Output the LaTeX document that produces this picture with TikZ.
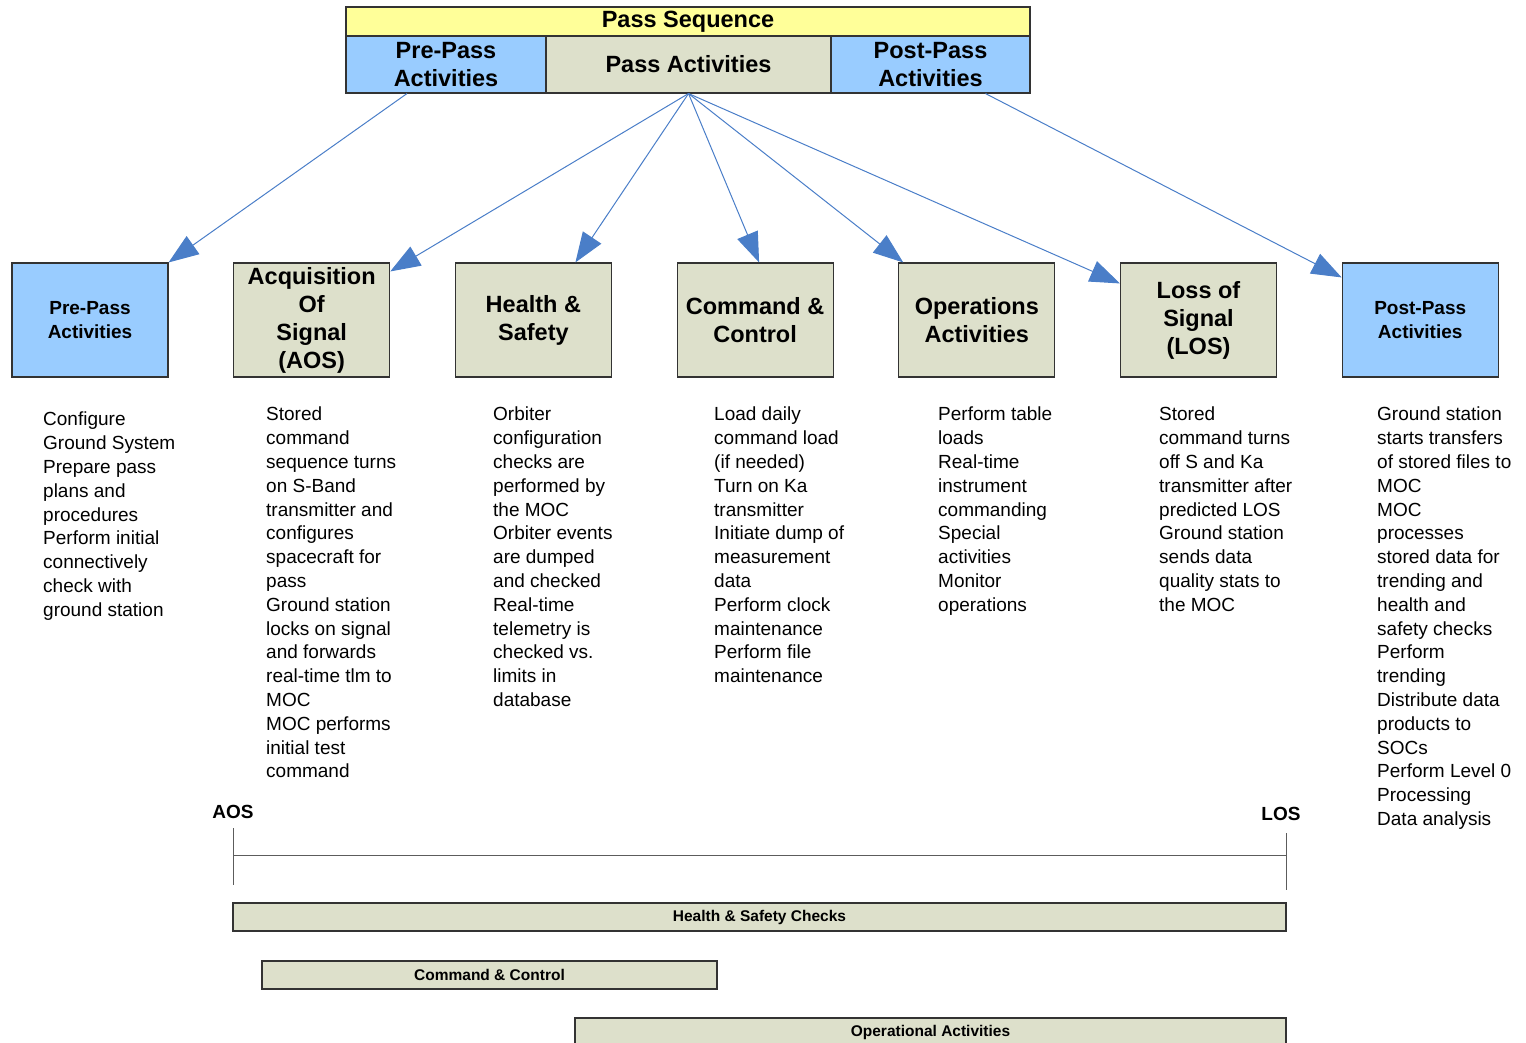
\documentclass[tikz,border=0pt]{standalone}
\usepackage{fontspec}
\setmainfont{Liberation Sans}
\usetikzlibrary{arrows.meta,positioning}
\definecolor{passblue}{HTML}{99CCFF}
\definecolor{passyellow}{HTML}{FFFF99}
\definecolor{sage}{HTML}{DDE0CB}
\definecolor{link}{HTML}{4A7EC8}
\definecolor{edge}{HTML}{333333}

\begin{document}
\begin{tikzpicture}[x=1pt,y=-1pt,
  head/.style={draw=edge,line width=1.1pt,inner sep=0pt,align=center,font={\fontsize{23.5}{28}\selectfont\bfseries}},
  phase/.style={draw=edge,line width=1.1pt,fill=sage,minimum width=156pt,minimum height=114pt,inner sep=0pt,align=center,font={\fontsize{23.5}{28}\selectfont\bfseries}},
  notes/.style={anchor=north west,inner sep=0pt,align=left,font={\fontsize{19}{23.8}\selectfont}},
  bar/.style={draw=edge,line width=1.1pt,fill=sage,minimum height=28pt,inner sep=0pt,font={\fontsize{15.5}{18}\selectfont\bfseries}},
  timemark/.style={inner sep=0pt,font={\fontsize{19}{22}\selectfont\bfseries}},
  feed/.style={link,line width=1pt,-{Triangle[length=30pt,width=22pt]}}]
 \useasboundingbox (0,0) rectangle (1526,1043);
 \node[head,fill=passyellow,minimum width=684pt,minimum height=29pt] (seq) at (688,21.5) {Pass Sequence};
 \node[head,fill=passblue,minimum width=200pt,minimum height=57pt] (pre) at (446,64.5) {Pre-Pass\\Activities};
 \node[head,fill=sage,minimum width=285pt,minimum height=57pt] (pass) at (688.5,64.5) {Pass Activities};
 \node[head,fill=passblue,minimum width=199pt,minimum height=57pt] (post) at (930.5,64.5) {Post-Pass\\Activities};

 \node[phase,fill=passblue,font={\fontsize{19}{24}\selectfont\bfseries}] (prebox) at (90,320) {Pre-Pass\\Activities};
 \node[phase,right=64.6pt of prebox] (aos) {Acquisition\\Of\\Signal\\(AOS)};
 \node[phase,right=64.6pt of aos] (hs) {Health \&\\Safety};
 \node[phase,right=64.6pt of hs] (cc) {Command \&\\Control};
 \node[phase,right=64.6pt of cc] (ops) {Operations\\Activities};
 \node[phase,right=64.6pt of ops] (los) {Loss of\\Signal\\(LOS)};
 \node[phase,fill=passblue,font={\fontsize{19}{24}\selectfont\bfseries},right=64.6pt of los] (postbox) {Post-Pass\\Activities};

 \draw[feed] ([xshift=-39pt]pre.south) -- (prebox.north east);
 \draw[feed] (pass.south) -- ([yshift=-9pt]aos.north east);
 \draw[feed] (pass.south) -- ([xshift=42pt]hs.north);
 \draw[feed] (pass.south) -- ([xshift=4pt]cc.north);
 \draw[feed] (pass.south) -- ([xshift=5pt]ops.north west);
 \draw[feed] (pass.south) -- ([yshift=-21pt]los.north west);
 \draw[feed] ([xshift=55pt]post.south) -- ([yshift=-15pt]postbox.north west);

 \node[notes] (prenotes) at (43,412) {Configure\\Ground System\\Prepare pass\\plans and\\procedures\\Perform initial\\connectively\\check with\\ground station};
 \node[notes] (aosnotes) at (266,407) {Stored\\command\\sequence turns\\on S-Band\\transmitter and\\configures\\spacecraft for\\pass\\Ground station\\locks on signal\\and forwards\\real-time tlm to\\MOC\\MOC performs\\initial test\\command};
 \node[notes] (hsnotes) at (493,407) {Orbiter\\configuration\\checks are\\performed by\\the MOC\\Orbiter events\\are dumped\\and checked\\Real-time\\telemetry is\\checked vs.\\limits in\\database};
 \node[notes] (ccnotes) at (714,407) {Load daily\\command load\\(if needed)\\Turn on Ka\\transmitter\\Initiate dump of\\measurement\\data\\Perform clock\\maintenance\\Perform file\\maintenance};
 \node[notes] (opsnotes) at (938,407) {Perform table\\loads\\Real-time\\instrument\\commanding\\Special\\activities\\Monitor\\operations};
 \node[notes] (losnotes) at (1159,407) {Stored\\command turns\\off S and Ka\\transmitter after\\predicted LOS\\Ground station\\sends data\\quality stats to\\the MOC};
 \node[notes] (postnotes) at (1377,407) {Ground station\\starts transfers\\of stored files to\\MOC\\MOC\\processes\\stored data for\\trending and\\health and\\safety checks\\Perform\\trending\\Distribute data\\products to\\SOCs\\Perform Level 0\\Processing\\Data analysis};

 \node[timemark] (aosmark) at (233,812) {AOS};
 \node[timemark] (losmark) at (1281,814) {LOS};
 \draw[edge!80,line width=1pt] (233,828) -- (233,885);
 \draw[edge!80,line width=1pt] (1286,833) -- (1286,890);
 \draw[edge!80,line width=1pt] (233,855) -- (1286,855);

 \node[bar,minimum width=1053pt] (hsbar) at (759.5,917) {Health \& Safety Checks};
 \node[bar,minimum width=455pt] (ccbar) at (489.5,975) {Command \& Control};
 \node[bar,minimum width=711pt] (opsbar) at (930.5,1032) {Operational Activities};
\end{tikzpicture}
\end{document}
